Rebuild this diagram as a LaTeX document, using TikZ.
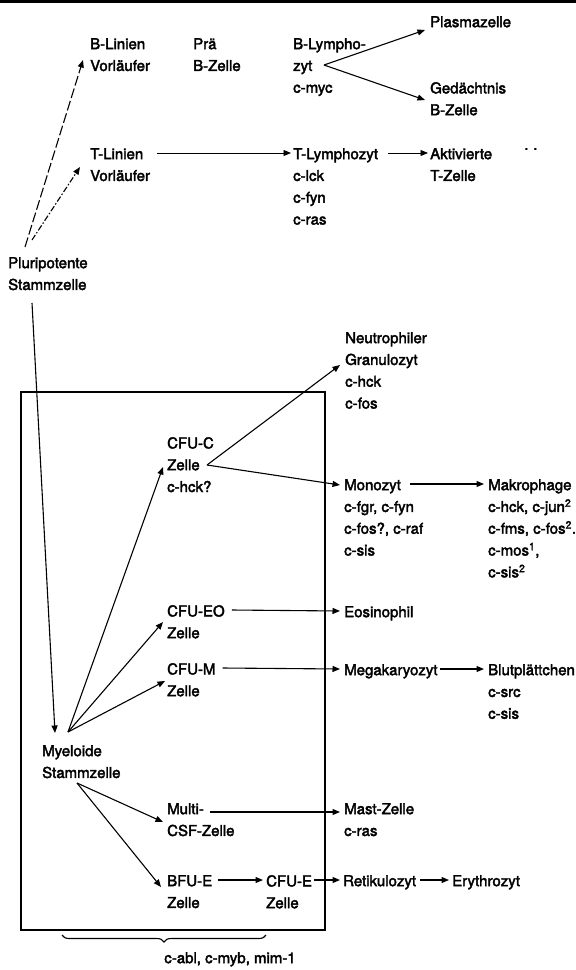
\documentclass[tikz,border=0pt]{standalone}
\usepackage{fontspec}
\setmainfont{TeX Gyre Heros}
\newfontfamily\lblfont{TeX Gyre Heros}[FakeBold=2.5]
\usetikzlibrary{arrows.meta,decorations.pathreplacing}
\begin{document}
\begin{tikzpicture}[x=1pt,y=-1pt,
  lbl/.style={anchor=north west, inner sep=0pt, align=left, font=\lblfont\fontsize{15}{21.8}\selectfont},
  arr/.style={line width=1.1pt, -{Triangle[length=7.5pt,width=6pt]}},
  dasharr/.style={arr, dash pattern=on 10pt off 3pt},
  dotarr/.style={arr, dash pattern=on 6pt off 2pt on 1.5pt off 2pt},
  frame/.style={line width=1.3pt},
]
\useasboundingbox (0,0) rectangle (576,970);
\draw[line width=3pt] (0,1.5) -- (576,1.5);

% nodes
\node[lbl] (bl)     at (90,38)   {B-Linien\\Vorläufer};
\node[lbl] (pre)    at (193,38)  {Prä\\B-Zelle};
\node[lbl] (blym)   at (293,38)  {B-Lympho-\\zyt\\c-myc};
\node[lbl] (plasma) at (430,16)  {Plasmazelle};
\node[lbl] (gedb)   at (430,82)  {Gedächtnis\\B-Zelle};
\node[lbl] (tl)     at (90,148)  {T-Linien\\Vorläufer};
\node[lbl] (tlym)   at (293,148) {T-Lymphozyt\\c-lck\\c-fyn\\c-ras};
\node[lbl] (akt)    at (430,148) {Aktivierte\\T-Zelle};
\node[lbl] (dots)   at (524,148) {.\,\,.};
\node[lbl] (plur)   at (8,257)   {Pluripotente\\Stammzelle};
\node[lbl] (neu)    at (345,332) {Neutrophiler\\Granulozyt\\c-hck\\c-fos};
\node[lbl] (cfuc)   at (167,437) {CFU-C\\Zelle\\c-hck?};
\node[lbl] (mono)   at (344,479) {Monozyt\\c-fgr, c-fyn\\c-fos?, c-raf\\c-sis};
\node[lbl] (makro)  at (488,479) {Makrophage\\c-hck, c-jun\textsuperscript{2}\\c-fms, c-fos\textsuperscript{2}.\\c-mos\textsuperscript{1},\\c-sis\textsuperscript{2}};
\node[lbl] (cfueo)  at (167,605) {CFU-EO\\Zelle};
\node[lbl] (eos)    at (344,606) {Eosinophil};
\node[lbl] (cfum)   at (167,663) {CFU-M\\Zelle};
\node[lbl] (mega)   at (344,664) {Megakaryozyt};
\node[lbl] (blut)   at (488,664) {Blutplättchen\\c-src\\c-sis};
\node[lbl] (mye)    at (42,745)  {Myeloide\\Stammzelle};
\node[lbl] (multi)  at (167,803) {Multi-\\CSF-Zelle};
\node[lbl] (mast)   at (344,803) {Mast-Zelle\\c-ras};
\node[lbl] (bfue)   at (167,875) {BFU-E\\Zelle};
\node[lbl] (cfue)   at (266,875) {CFU-E\\Zelle};
\node[lbl] (reti)   at (343,875) {Retikulozyt};
\node[lbl] (ery)    at (452,875) {Erythrozyt};
\node[lbl, anchor=north] (genes) at (230,952) {c-abl, c-myb, mim-1};

% box and brace
\draw[frame] (21,392) rectangle (325,930);
\draw[line width=1.1pt, decorate, decoration={brace, mirror, amplitude=7pt}] (62,935) -- (266,935);

% connectors
\draw[dasharr] ([shift={(17,-10)}]plur.north west) -- ([shift={(-7,22)}]bl.north west);
\draw[dotarr]  ([shift={(24,-17)}]plur.north west) -- ([shift={(-10,19)}]tl.north west);
\draw[arr, line width=0.9pt] ([shift={(7,5)}]tl.north east) -- ([shift={(-2,5)}]tlym.north west);
\draw[arr] ([shift={(31,27)}]blym.north west) -- ([shift={(-5,14)}]plasma.north west);
\draw[arr] ([shift={(31,27)}]blym.north west) -- ([shift={(-5,18)}]gedb.north west);
\draw[arr, line width=0.9pt] ([shift={(10,5)}]tlym.north east) -- ([shift={(-2,5)}]akt.north west);
\draw[arr] ([shift={(24,46)}]plur.north west) -- ([shift={(13,-12)}]mye.north west);

\draw[arr] ([shift={(26,-13)}]mye.north west) -- ([shift={(-4,30)}]cfuc.north west);
\draw[arr] ([shift={(26,-13)}]mye.north west) -- ([shift={(-4,17)}]cfueo.north west);
\draw[arr] ([shift={(26,-13)}]mye.north west) -- ([shift={(-2,18)}]cfum.north west);
\draw[arr] ([shift={(35,38)}]mye.north west) -- ([shift={(-4,19)}]multi.north west);
\draw[arr] ([shift={(35,38)}]mye.north west) -- ([shift={(-6,12)}]bfue.north west);

\draw[arr] ([shift={(40,28)}]cfuc.north west) -- ([shift={(-5,33)}]neu.north west);
\draw[arr] ([shift={(40,28)}]cfuc.north west) -- ([shift={(-4,6)}]mono.north west);
\draw[arr] ([shift={(66,5)}]mono.north west) -- ([shift={(-4,5)}]makro.north west);
\draw[arr] ([shift={(7,5)}]cfueo.north east) -- ([shift={(-4,5)}]eos.north west);
\draw[arr] ([shift={(7,5)}]cfum.north east) -- ([shift={(-4,5)}]mega.north west);
\draw[arr] ([shift={(2,5)}]mega.north east) -- ([shift={(-4,5)}]blut.north west);
\draw[arr] ([shift={(43,9)}]multi.north west) -- ([shift={(-4,9)}]mast.north west);
\draw[arr] ([shift={(6,5)}]bfue.north east) -- ([shift={(-3,5)}]cfue.north west);
\draw[arr] ([shift={(2,5)}]cfue.north east) -- ([shift={(-3,5)}]reti.north west);
\draw[arr] ([shift={(4,5)}]reti.north east) -- ([shift={(-3,5)}]ery.north west);
\end{tikzpicture}
\end{document}
